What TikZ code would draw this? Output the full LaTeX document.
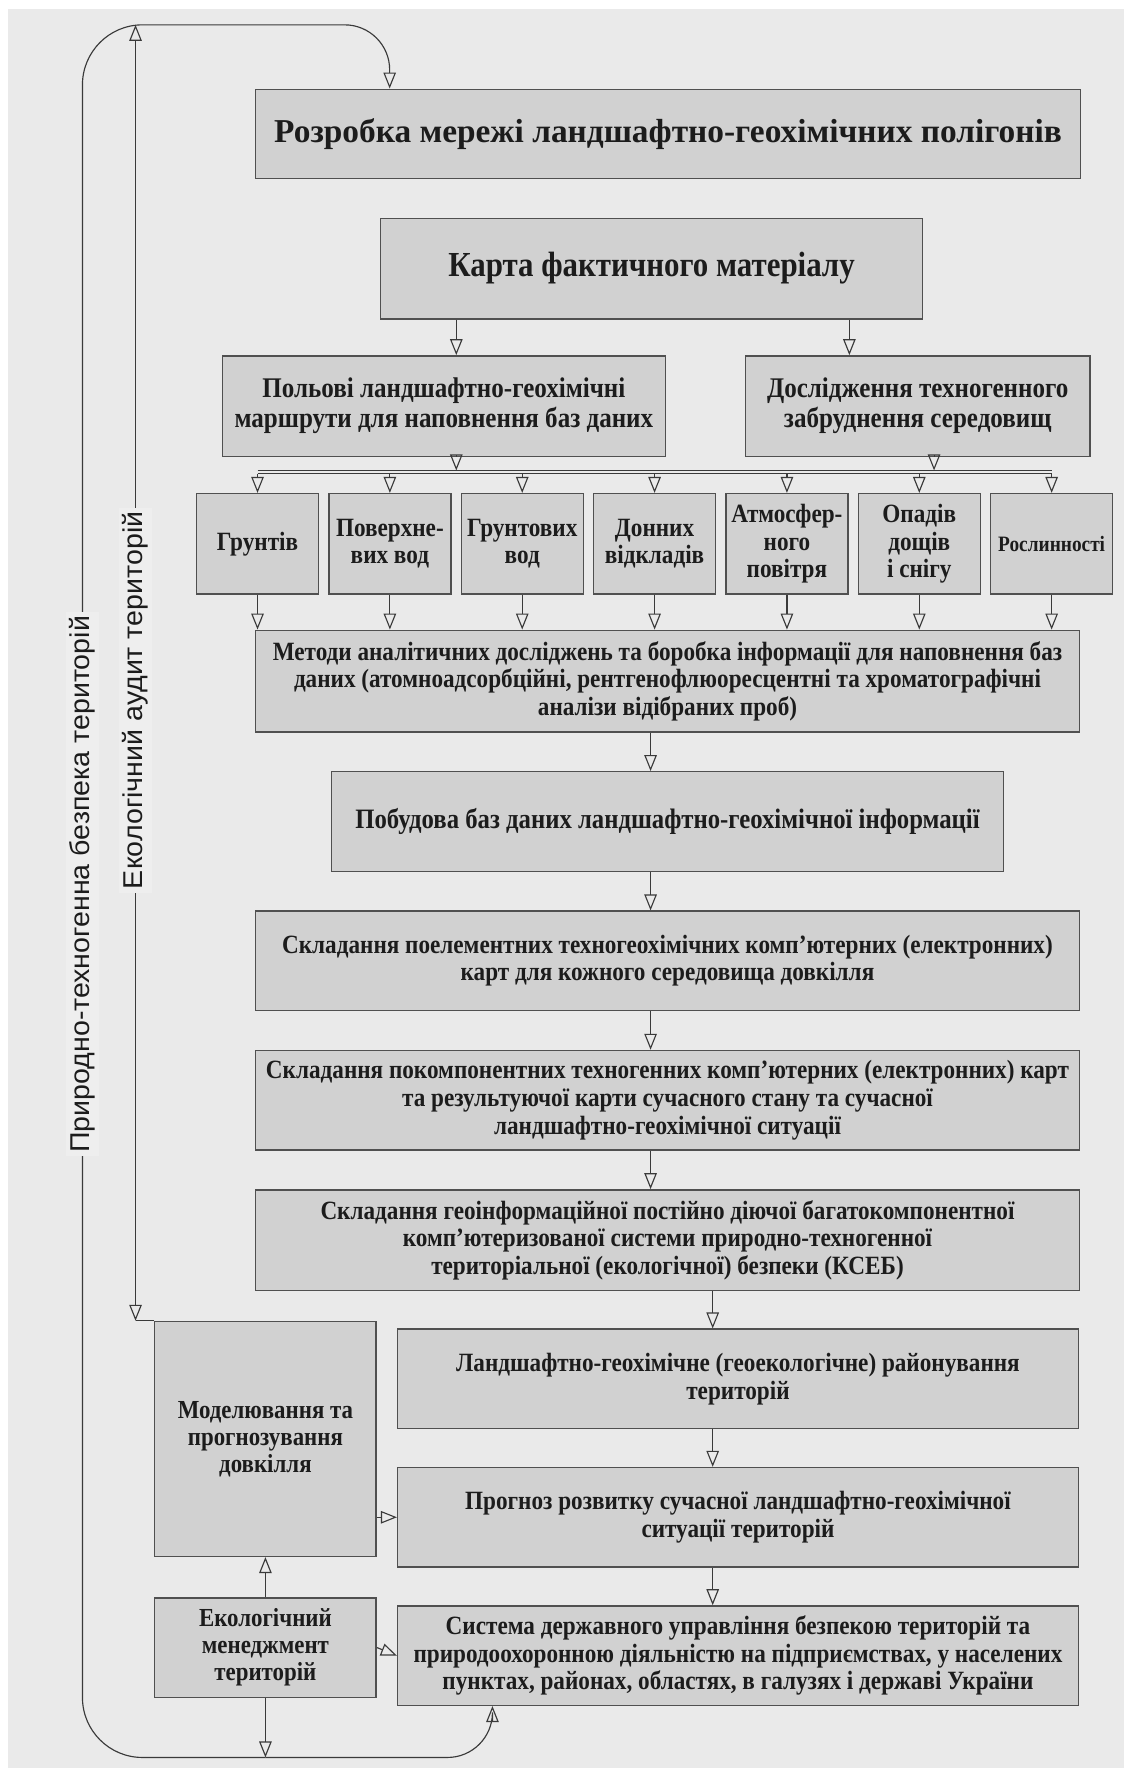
\documentclass[tikz,border=0pt]{standalone}
\usepackage{fontspec}
\setmainfont{Liberation Serif}
\newfontfamily\boxfont[FakeStretch=0.88]{Liberation Serif}
\newfontfamily\sidefont[FakeStretch=1.05]{Liberation Sans}
\usetikzlibrary{positioning,arrows.meta}
\definecolor{tlo}{HTML}{EAEAEA}
\definecolor{mitkatlo}{HTML}{EEEEEE}
\definecolor{blokfill}{HTML}{D1D1D1}
\definecolor{ramka}{HTML}{505050}
\definecolor{liniya}{HTML}{3A3A3A}
\definecolor{tekst}{HTML}{1C1C1C}

\begin{document}
\begin{tikzpicture}[
		x=0.022592cm, y=-0.022592cm,
		blok/.style={draw=ramka, fill=blokfill, line width=0.8pt, align=center, inner sep=0pt, text=tekst, font=\boxfont\bfseries\fontsize{15}{15.7}\selectfont, minimum height=1.99cm},
		velykyi/.style={blok, font=\bfseries\fontsize{19}{22}\selectfont},
		malyi/.style={blok, minimum width=2.44cm, minimum height=2.01cm},
		bichnyi/.style={blok, minimum width=4.43cm, font=\boxfont\bfseries\fontsize{14.8}{15.4}\selectfont},
		mitka/.style={rotate=90, fill=mitkatlo, inner sep=2pt, text=tekst, font=\sidefont\fontsize{15.5}{17}\selectfont},
		strilka/.style={draw=liniya, line width=0.65pt, -{Triangle[open, length=0.32cm, width=0.25cm]}},
		dvostrilka/.style={draw=liniya, line width=0.65pt, {Triangle[open, length=0.32cm, width=0.25cm]}-{Triangle[open, length=0.32cm, width=0.25cm]}},
		]
		\fill[tlo] (7,8) rectangle (995,1565);
		\useasboundingbox (0,0) rectangle (1003,1568);
		
		%Nodes
		\node[velykyi, minimum width=16.51cm, minimum height=1.785cm] (razr) at (591.5,118.5) {Розробка мережі ландшафтно-геохімічних полігонів};
		\node[velykyi, minimum width=10.84cm, minimum height=2.01cm, font=\boxfont\bfseries\fontsize{20}{23}\selectfont] (karta) [below=0.77cm of razr, xshift=-0.33cm] {Карта фактичного матеріалу};
		\node[blok, minimum width=8.86cm, minimum height=2.01cm, font=\boxfont\bfseries\fontsize{16.2}{17}\selectfont] (polovi) at (393,359.5) {Польові ландшафтно-геохімічні\\маршрути для наповнення баз даних};
		\node[blok, minimum width=6.89cm, minimum height=2.01cm, font=\boxfont\bfseries\fontsize{16.2}{17}\selectfont] (dosl) at (812.5,359.5) {Дослідження техногенного\\забруднення середовищ};
		
		\node[malyi] (g1) at (228,481.5) {Грунтів};
		\node[malyi] (g2) [right=0.18cm of g1] {Поверхне-\\вих вод};
		\node[malyi] (g3) [right=0.18cm of g2] {Грунтових\\вод};
		\node[malyi] (g4) [right=0.18cm of g3] {Донних\\відкладів};
		\node[malyi] (g5) [right=0.18cm of g4] {Атмосфер-\\ного\\повітря};
		\node[malyi] (g6) [right=0.18cm of g5] {Опадів\\дощів\\і снігу};
		\node[malyi, font=\boxfont\bfseries\fontsize{12.5}{14}\selectfont] (g7) [right=0.18cm of g6] {Рослинності};
		
		\node[blok, minimum width=16.49cm, minimum height=2.033cm] (metody) at (591,603) {Методи аналітичних досліджень та боробка інформації для наповнення баз\\даних (атомноадсорбційні, рентгенофлюоресцентні та хроматографічні\\аналізи відібраних проб)};
		\node[blok, minimum width=13.44cm, font=\boxfont\bfseries\fontsize{16}{17}\selectfont] (bazy) [below=0.77cm of metody] {Побудова баз даних ландшафтно-геохімічної інформації};
		\node[blok, minimum width=16.49cm] (poel) [below=0.77cm of bazy] {Складання поелементних техногеохімічних комп’ютерних (електронних)\\карт для кожного середовища довкілля};
		\node[blok, minimum width=16.49cm] (pokomp) [below=0.77cm of poel] {Складання покомпонентних техногенних комп’ютерних (електронних) карт\\та результуючої карти сучасного стану та сучасної\\ландшафтно-геохімічної ситуації};
		\node[blok, minimum width=16.49cm, minimum height=2.01cm] (ksb) [below=0.77cm of pokomp] {Складання геоінформаційної постійно діючої багатокомпонентної\\комп’ютеризованої системи природно-техногенної\\територіальної (екологічної) безпеки (КСЕБ)};
		
		\node[blok, minimum width=13.62cm] (raion) [below=0.75cm of ksb, xshift=1.41cm] {Ландшафтно-геохімічне (геоекологічне) районування\\територій};
		\node[blok, minimum width=13.62cm] (prognoz) [below=0.75cm of raion] {Прогноз розвитку сучасної ландшафтно-геохімічної\\ситуації територій};
		\node[blok, minimum width=13.62cm] (sys) [below=0.75cm of prognoz] {Система державного управління безпекою територій та\\природоохоронною діяльністю на підприємствах, у населених\\пунктах, районах, областях, в галузях і державі України};
		
		\node[bichnyi, minimum height=4.70cm] (model) at (235,1274) {Моделювання та\\прогнозування\\довкілля};
		\node[bichnyi] (menedzh) [below=0.8cm of model] {Екологічний\\менеджмент\\територій};
		
		%Coordinates
		\coordinate (vgori) at (0,22);
		\coordinate (vnyzu) at (0,1556);
		\coordinate (shyna) at (0,416.5);
		\coordinate (shyna2) at (0,419.5);
		\coordinate (zovn) at (73,0);
		\coordinate (vnutr) at (120,0);
		\coordinate (k1) at (345,0);
		\coordinate (k2) at (404,0);
		\coordinate (k3) at (752,0);
		\coordinate (k4) at (827,0);
		\coordinate (k5) at (576,0);
		\coordinate (k6) at (631,0);
		\coordinate (k7) at (436,0);
		
		%Lines
		\draw[strilka] (karta.south -| k2) -- (polovi.north -| k2);
		\draw[strilka] (karta.south -| k3) -- (dosl.north -| k3);
		\draw[strilka] (polovi.south -| k2) -- (shyna -| k2);
		\draw[strilka] (dosl.south -| k4) -- (shyna -| k4);
		\draw[liniya, line width=0.65pt] (shyna -| g1) -- (shyna -| g7);
		\draw[liniya, line width=0.65pt] (shyna2 -| g1) -- (shyna2 -| g7);
		
		\draw[strilka] (shyna2 -| g1) -- (g1.north);
		\draw[strilka] (shyna2 -| g2) -- (g2.north);
		\draw[strilka] (shyna2 -| g3) -- (g3.north);
		\draw[strilka] (shyna2 -| g4) -- (g4.north);
		\draw[strilka] (shyna2 -| g5) -- (g5.north);
		\draw[strilka] (shyna2 -| g6) -- (g6.north);
		\draw[strilka] (shyna2 -| g7) -- (g7.north);
		
		\draw[strilka] (g1.south) -- (metody.north -| g1);
		\draw[strilka] (g2.south) -- (metody.north -| g2);
		\draw[strilka] (g3.south) -- (metody.north -| g3);
		\draw[strilka] (g4.south) -- (metody.north -| g4);
		\draw[strilka] (g5.south) -- (metody.north -| g5);
		\draw[strilka] (g6.south) -- (metody.north -| g6);
		\draw[strilka] (g7.south) -- (metody.north -| g7);
		
		\draw[strilka] (metody.south -| k5) -- (bazy.north -| k5);
		\draw[strilka] (bazy.south -| k5) -- (poel.north -| k5);
		\draw[strilka] (poel.south -| k5) -- (pokomp.north -| k5);
		\draw[strilka] (pokomp.south -| k5) -- (ksb.north -| k5);
		\draw[strilka] (ksb.south -| k6) -- (raion.north -| k6);
		\draw[strilka] (raion.south -| k6) -- (prognoz.north -| k6);
		\draw[strilka] (prognoz.south -| k6) -- (sys.north -| k6);
		
		\draw[strilka] (model.east |- prognoz.west) -- (prognoz.west);
		\draw[strilka] (menedzh.east) -- (sys.west);
		\draw[strilka] (menedzh.north) -- (model.south);
		\draw[strilka] (menedzh.south) -- (menedzh.south |- vnyzu);
		\draw[strilka, rounded corners=0.9cm] (menedzh.south |- vnyzu) -- (k7 |- vnyzu) -- (sys.south -| k7);
		\draw[strilka, rounded corners=1.2cm] (menedzh.south |- vnyzu) -- (zovn |- vnyzu) -- (zovn |- vgori) [rounded corners=0.9cm] -- (k1 |- vgori) -- (razr.north -| k1);
		\draw[dvostrilka] (model.north -| vnutr) -- (vnutr |- vgori);
		\draw[liniya, line width=0.65pt] (model.north -| vnutr) -- (model.north west);
		
		\node[mitka] (bezpeka) at (73,783) {Природно-техногенна безпека територій};
		\node[mitka] (audyt) at (120,620) {Екологічний аудит територій};
		\end{tikzpicture}
\end{document}
